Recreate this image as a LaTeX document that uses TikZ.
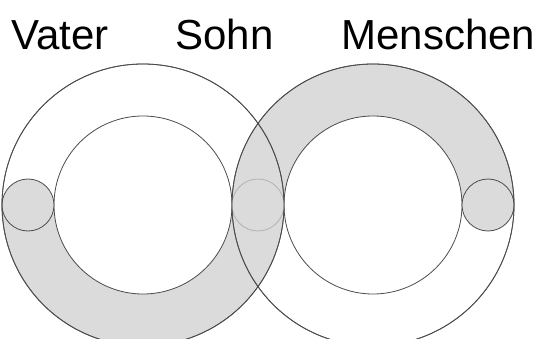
\documentclass[tikz,border=0pt]{standalone}
\usepackage{fontspec}
\setmainfont{Liberation Sans}
\usetikzlibrary{positioning}

\begin{document}
\begin{tikzpicture}[x=1pt, y=1pt, line width=0.8pt,
                  anillo/.style={draw=black!70},
                  relleno/.style={fill=black!14},
                  rotulo/.style={font=\fontsize{42}{50}\selectfont,
                  inner sep=0pt, anchor=base west}]

                  \useasboundingbox (0,0) rectangle (538,338);

                  % Centros de los anillos.
                  \coordinate (L) at (143,133);
                  \coordinate (R) at (373,133);
                  \coordinate (kv) at (28,133);
                  \coordinate (ks) at (258,133);
                  \coordinate (km) at (488,133);

                  % Mitades sombreadas de los anillos.
                  \fill[relleno] ([xshift=-141pt]L) arc[start angle=180, end angle=360, radius=141]
                  -- ([xshift=89pt]L) arc[start angle=0, end angle=-180, radius=89] -- cycle;
                  \fill[relleno] ([xshift=-141pt]R) arc[start angle=180, end angle=0, radius=141]
                  -- ([xshift=89pt]R) arc[start angle=0, end angle=180, radius=89] -- cycle;
                  \begin{scope}
                    \clip (L) circle (141);
                    \fill[relleno] (R) circle (141);
                  \end{scope}

                  % Circulos grandes.
                  \draw[anillo] (L) circle (141) (L) circle (89);
                  \draw[anillo] (R) circle (141) (R) circle (89);

                  % Circulos pequenos.
                  \filldraw[relleno, anillo] (kv) circle (26);
                  \filldraw[relleno, anillo] (km) circle (26);
                  \filldraw[relleno, draw=black!30] (ks) circle (26);
                  \draw[anillo] (L) circle (141);
                  \draw[anillo] (R) circle (141);

                  % Rotulos.
                  \node[rotulo] (vater) at (11,288) {Vater};
                  \node[rotulo] (sohn) at (175,288) {Sohn};
                  \node[rotulo] (menschen) at (341,288) {Menschen};

\end{tikzpicture}
\end{document}
